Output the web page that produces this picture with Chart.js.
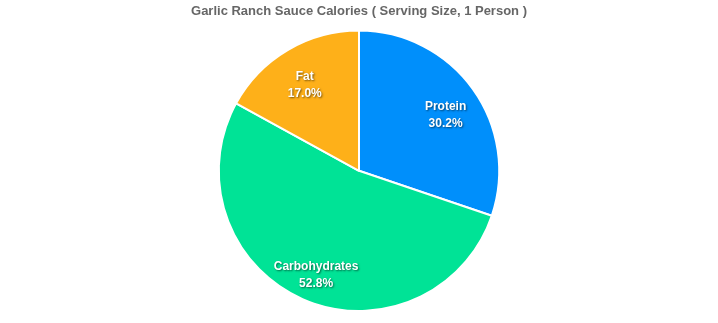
<!DOCTYPE html>
<html>
<head>
<meta charset="utf-8">
<script src="https://cdn.jsdelivr.net/npm/chart.js@4.4.0/dist/chart.umd.min.js"></script>
<style>
  html, body { margin: 0; padding: 0; background: #fff; }
  #wrap { width: 718px; height: 323px; }
</style>
</head>
<body>
<div id="wrap"><canvas id="pieChart" width="718" height="323"></canvas></div>
<script>
const titulo = 'Garlic Ranch Sauce Calories ( Serving Size, 1 Person )';
const categorias = ['Protein', 'Carbohydrates', 'Fat'];
const valores = [30.2, 52.8, 17.0];
const cores = ['#008FFB', '#00E396', '#FEB019'];

// rotulos dentro das fatias (nome + percentual)
const rotulosPlugin = {
  id: 'rotulos',
  afterDatasetsDraw(chart) {
    const ctx = chart.ctx;
    const meta = chart.getDatasetMeta(0);
    const total = valores.reduce((a, b) => a + b, 0);
    ctx.save();
    ctx.font = 'bold 12px "Liberation Sans", Arial, sans-serif';
    ctx.textAlign = 'center';
    ctx.textBaseline = 'middle';
    ctx.fillStyle = '#fff';
    ctx.shadowColor = 'rgba(0,0,0,0.55)';
    ctx.shadowBlur = 2;
    ctx.shadowOffsetX = 1;
    ctx.shadowOffsetY = 1;
    meta.data.forEach((arc, i) => {
      const p = arc.getProps(['x', 'y', 'startAngle', 'endAngle', 'outerRadius']);
      const meio = (p.startAngle + p.endAngle) / 2;
      const r = p.outerRadius * 0.76;
      const x = p.x + Math.cos(meio) * r;
      const y = p.y + Math.sin(meio) * r + 6;
      const pct = (valores[i] / total * 100).toFixed(1) + '%';
      ctx.fillText(categorias[i], x, y - 8);
      ctx.fillText(pct, x, y + 9);
    });
    ctx.restore();
  }
};

const ctx = document.getElementById('pieChart').getContext('2d');
new Chart(ctx, {
  type: 'pie',
  data: {
    labels: categorias,
    datasets: [{
      data: valores,
      backgroundColor: cores,
      borderColor: '#fff',
      borderWidth: 2
    }]
  },
  options: {
    responsive: false,
    animation: false,
    layout: { padding: { top: 0, bottom: 11, left: 0, right: 0 } },
    plugins: {
      legend: { display: false },
      tooltip: { enabled: false },
      title: {
        display: true,
        text: titulo,
        color: '#666',
        font: { family: '"Liberation Sans", Arial, sans-serif', size: 13, weight: 'bold' },
        padding: { top: 4, bottom: 10 }
      }
    }
  },
  plugins: [rotulosPlugin]
});
</script>
</body>
</html>
